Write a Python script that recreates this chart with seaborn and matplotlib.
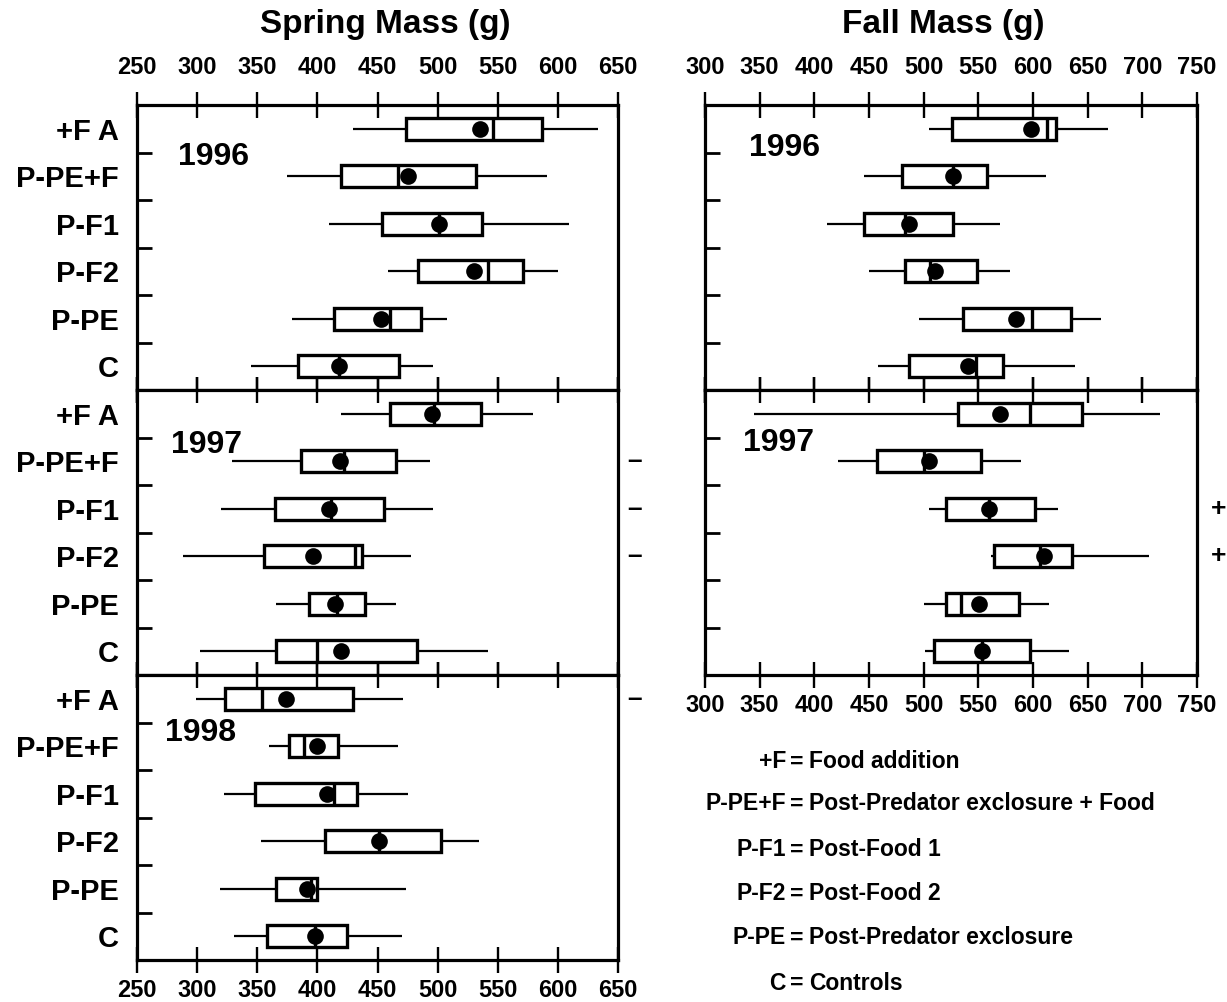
import numpy as np
import pandas as pd
import matplotlib
matplotlib.use('Agg')
import matplotlib.pyplot as plt
import matplotlib.transforms as mtransforms
import seaborn as sns

# ---------------- data ----------------
categories = ['+F A', 'P-PE+F', 'P-F1', 'P-F2', 'P-PE', 'C']

# per category: whisker low, Q1, median, Q3, whisker high
spring_1996_box = [[430, 474, 546, 587, 633],
                   [375, 420, 467, 532, 591],
                   [410, 454, 501, 537, 609],
                   [459, 484, 542, 571, 600],
                   [379, 414, 460, 486, 508],
                   [345, 384, 418, 468, 496]]
spring_1996_mean = [535, 475, 501, 530, 453, 418]

spring_1997_box = [[420, 460, 497, 536, 579],
                   [329, 386, 422, 465, 494],
                   [320, 365, 411, 455, 496],
                   [288, 356, 431, 437, 478],
                   [366, 393, 416, 440, 465],
                   [302, 366, 400, 483, 542]]
spring_1997_mean = [495, 419, 410, 396, 415, 420]

spring_1998_box = [[299, 323, 354, 430, 471],
                   [360, 376, 389, 417, 467],
                   [322, 348, 414, 433, 475],
                   [353, 406, 451, 503, 534],
                   [319, 366, 395, 400, 474],
                   [331, 358, 398, 425, 470]]
spring_1998_mean = [374, 400, 408, 451, 391, 398]

fall_1996_box = [[505, 526, 613, 621, 669],
                 [445, 480, 527, 558, 612],
                 [412, 445, 483, 527, 570],
                 [450, 483, 506, 549, 579],
                 [496, 536, 599, 635, 662],
                 [458, 487, 548, 573, 638]]
fall_1996_mean = [598, 527, 487, 510, 584, 541]

fall_1997_box = [[345, 531, 597, 645, 716],
                 [422, 457, 500, 552, 589],
                 [505, 520, 560, 602, 623],
                 [562, 564, 606, 636, 706],
                 [500, 520, 534, 587, 615],
                 [501, 509, 553, 597, 633]]
fall_1997_mean = [570, 505, 560, 610, 551, 553]

# significance marks to the right of the panels
spring_1996_sig = ['', '', '', '', '', '']
spring_1997_sig = ['', '–', '–', '–', '', '']
spring_1998_sig = ['–', '', '', '', '', '']
fall_1996_sig = ['', '', '', '', '', '']
fall_1997_sig = ['', '', '+', '+', '', '']

spring_ticks = [250, 300, 350, 400, 450, 500, 550, 600, 650]
fall_ticks = [300, 350, 400, 450, 500, 550, 600, 650, 700, 750]

legend_terms = ['+F', 'P-PE+F', 'P-F1', 'P-F2', 'P-PE', 'C']
legend_desc = ['Food addition', 'Post-Predator exclosure + Food', 'Post-Food 1',
               'Post-Food 2', 'Post-Predator exclosure', 'Controls']

# ---------------- style ----------------
sns.set_style('white')
plt.rcParams['font.family'] = ['Liberation Sans', 'DejaVu Sans']
plt.rcParams['font.weight'] = 'bold'
plt.rcParams['axes.linewidth'] = 2.2
for key in ['text.color', 'axes.labelcolor', 'xtick.color', 'ytick.color',
            'axes.edgecolor']:
    plt.rcParams[key] = 'black'

W, Hpx = 1227, 1002
fig = plt.figure(figsize=(W / 100, Hpx / 100), dpi=100)

PH = 285 / Hpx
TOP = 1 - 105 / Hpx


def draw_panel(ax, box, means, ticks, year, year_xy, show_ylabels,
               top_labels, bottom_labels, sig, sig_x):
    rows = [(cat, v) for cat, vals in zip(categories, box) for v in vals]
    df = pd.DataFrame(rows, columns=['group', 'mass'])
    sns.boxplot(data=df, x='mass', y='group', order=categories, orient='h',
                whis=(0, 100), width=0.46, color='white', linecolor='black',
                linewidth=2.4, showcaps=False,
                whiskerprops={'linewidth': 1.6},
                medianprops={'linewidth': 2.4, 'color': 'black'}, ax=ax)
    mdf = pd.DataFrame({'group': categories, 'mass': means})
    sns.stripplot(data=mdf, x='mass', y='group', order=categories, orient='h',
                  jitter=False, color='black', size=12, linewidth=0,
                  ax=ax, zorder=5)
    ax.set_xlim(ticks[0], ticks[-1])
    ax.set_ylim(5.5, -0.5)
    ax.set_xlabel('')
    ax.set_ylabel('')
    ax.set_xticks(ticks)
    ax.set_xticklabels([str(t) for t in ticks])
    ax.tick_params(axis='x', which='major', top=True, bottom=True,
                   labeltop=top_labels, labelbottom=bottom_labels,
                   direction='inout', length=19, width=1.7,
                   labelsize=17, pad=4, colors='black')
    ax.set_yticks(range(len(categories)))
    ax.set_yticks([i + 0.5 for i in range(len(categories) - 1)], minor=True)
    if show_ylabels:
        ax.set_yticklabels(categories, fontsize=21, fontweight='bold')
    else:
        ax.set_yticklabels([])
    ax.tick_params(axis='y', which='major', length=0, pad=13, left=False,
                   colors='black')
    ax.tick_params(axis='y', which='minor', left=True, right=False,
                   direction='in', length=11, width=2, colors='black')
    for sp in ax.spines.values():
        sp.set_linewidth(2.3)
        sp.set_color('black')
        sp.set_visible(True)
    ax.text(year_xy[0], year_xy[1], year, transform=ax.transAxes,
            fontsize=23, fontweight='bold', ha='left', va='center')
    trans = mtransforms.blended_transform_factory(ax.transAxes, ax.transData)
    for i, mark in enumerate(sig):
        if mark:
            ax.text(sig_x, i, mark, transform=trans, ha='center', va='center',
                    fontsize=19, fontweight='bold', clip_on=False)


sx, sw = 137 / W, 481 / W
fx, fw = 705 / W, 492 / W

spring_boxes = [spring_1996_box, spring_1997_box, spring_1998_box]
spring_means = [spring_1996_mean, spring_1997_mean, spring_1998_mean]
spring_sigs = [spring_1996_sig, spring_1997_sig, spring_1998_sig]
years = ['1996', '1997', '1998']
spring_year_xy = [(0.085, 0.816), (0.071, 0.807), (0.058, 0.796)]

for i in range(3):
    ax = fig.add_axes([sx, TOP - (i + 1) * PH, sw, PH])
    draw_panel(ax, spring_boxes[i], spring_means[i], spring_ticks, years[i],
               spring_year_xy[i], True, i == 0, i == 2, spring_sigs[i], 1.035)
    if i == 0:
        ax.tick_params(axis='x', pad=9)

fall_boxes = [fall_1996_box, fall_1997_box]
fall_means = [fall_1996_mean, fall_1997_mean]
fall_sigs = [fall_1996_sig, fall_1997_sig]
fall_year_xy = [(0.089, 0.849), (0.077, 0.814)]

for i in range(2):
    ax = fig.add_axes([fx, TOP - (i + 1) * PH, fw, PH])
    draw_panel(ax, fall_boxes[i], fall_means[i], fall_ticks, years[i],
               fall_year_xy[i], False, i == 0, i == 1, fall_sigs[i], 1.043)
    if i == 0:
        ax.tick_params(axis='x', pad=9)

fig.text(385 / W, 1 - 24 / Hpx, 'Spring Mass (g)', ha='center', va='center',
         fontsize=24, fontweight='bold')
fig.text(943 / W, 1 - 24 / Hpx, 'Fall Mass (g)', ha='center', va='center',
         fontsize=24, fontweight='bold')

legend_y = [762, 804, 850, 894, 938, 983]
for term, desc, y in zip(legend_terms, legend_desc, legend_y):
    yy = 1 - y / Hpx
    fig.text(786 / W, yy, term, ha='right', va='center', fontsize=16.5,
             fontweight='bold')
    fig.text(797 / W, yy, '=', ha='center', va='center', fontsize=16.5,
             fontweight='bold')
    fig.text(809 / W, yy, desc, ha='left', va='center', fontsize=16.5,
             fontweight='bold')

fig.savefig('out.png', dpi=100)
